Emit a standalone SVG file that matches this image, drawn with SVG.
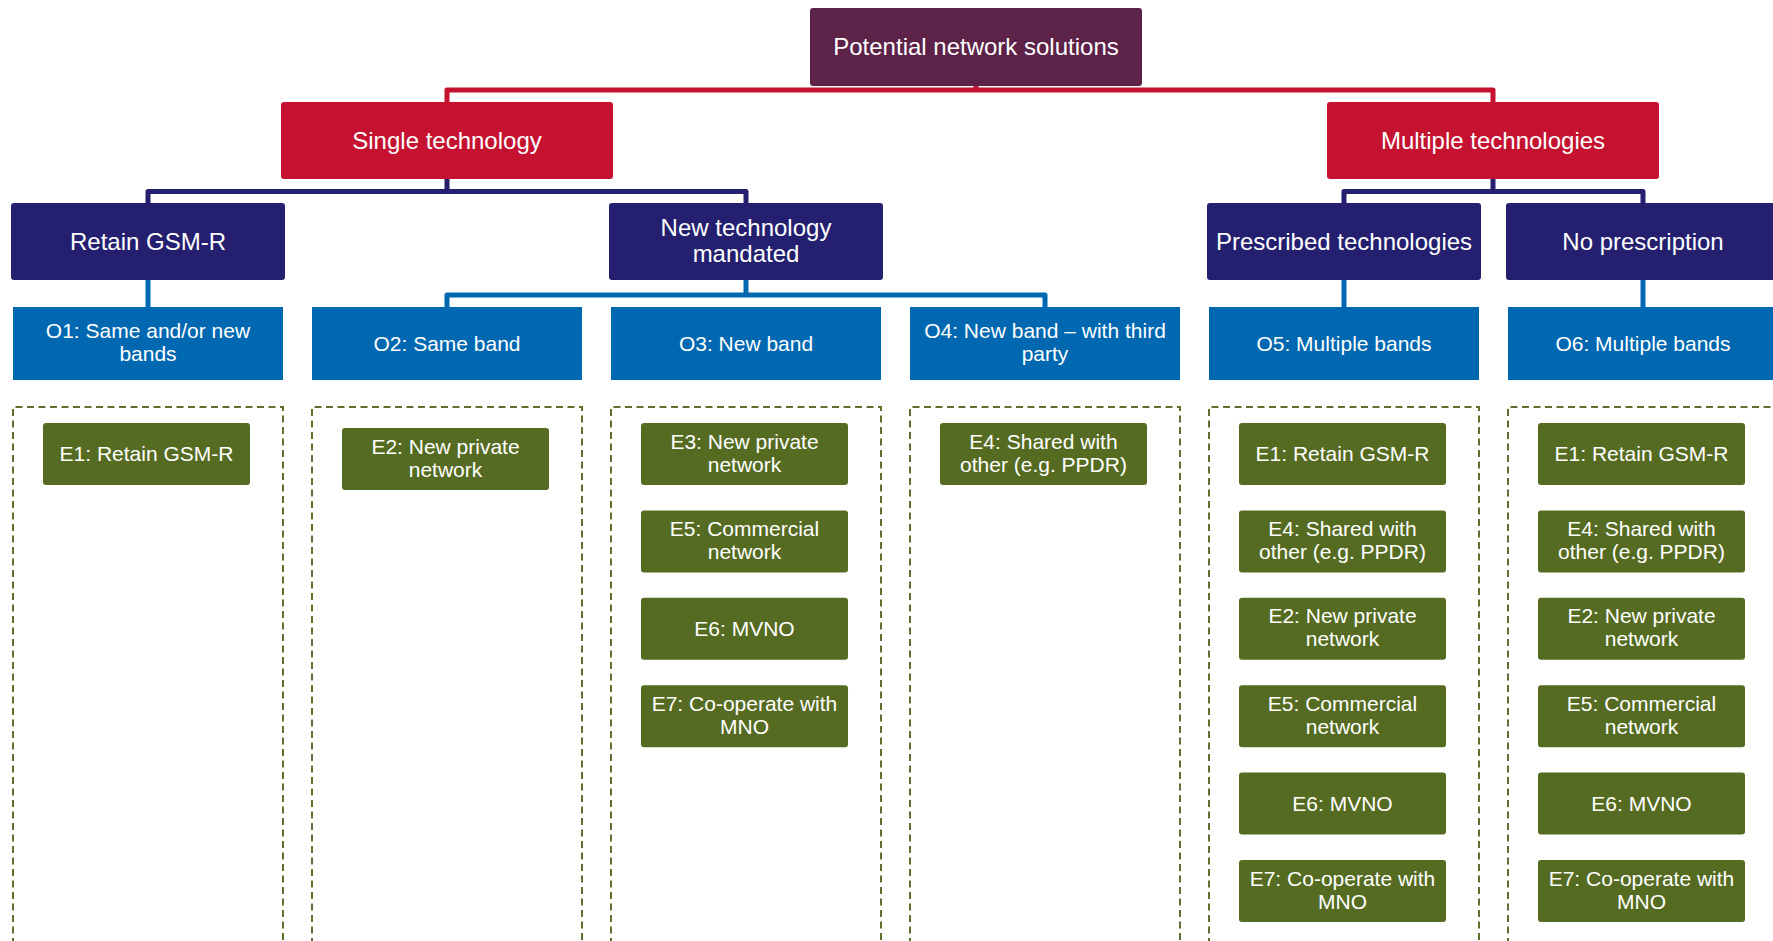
<svg xmlns="http://www.w3.org/2000/svg" width="1773" height="941" viewBox="0 0 1773 941">
<style>
  text { font-family: "Liberation Sans", Arial, sans-serif; fill: #ffffff; text-anchor: middle; }
  .t24 { font-size: 24px; }
  .t21 { font-size: 21px; }
  .top { fill: #5C2248; }
  .red { fill: #C41230; }
  .navy { fill: #241F6F; }
  .blue { fill: #0068B1; }
  .green { fill: #566B22; }
  .dash { fill: none; stroke: #5E7030; stroke-width: 2; stroke-dasharray: 7 4.5; }
  .cr { fill: none; stroke: #C41230; stroke-width: 5; stroke-linejoin: round; }
  .cn { fill: none; stroke: #241F6F; stroke-width: 5; stroke-linejoin: round; }
  .cb { fill: none; stroke: #0068B1; stroke-width: 5; stroke-linejoin: round; }
</style>
<rect width="1773" height="941" fill="#ffffff"/>

<g id="connectors">
  <path class="cr" d="M976 84 V90 M447 104 V90 H1493 V104"/>
  <path class="cn" d="M447 177 V191.5 M148 205 V191.5 H746 V205 M1493 177 V191.5 M1344 205 V191.5 H1643 V205"/>
  <path class="cb" d="M148 278 V309 M746 278 V295 M447 309 V295 H1045 V309 M1344 278 V309 M1643 278 V309"/>
</g>

<g id="groups">
  <path class="dash" d="M13 945 V407 H283 V945"/>
  <path class="dash" d="M312 945 V407 H582 V945"/>
  <path class="dash" d="M611 945 V407 H881 V945"/>
  <path class="dash" d="M910 945 V407 H1180 V945"/>
  <path class="dash" d="M1209 945 V407 H1479 V945"/>
  <path class="dash" d="M1508 945 V407 H1778 V945"/>
</g>

<g id="root">
  <rect class="top" x="810" y="8" width="332" height="78" rx="3"/>
  <text class="t24" x="976" y="55">Potential network solutions</text>
</g>

<g id="single">
  <rect class="red" x="281" y="102" width="332" height="77" rx="3"/>
  <text class="t24" x="447" y="149">Single technology</text>
</g>
<g id="multiple">
  <rect class="red" x="1327" y="102" width="332" height="77" rx="3"/>
  <text class="t24" x="1493" y="149">Multiple technologies</text>
</g>

<g id="retain">
  <rect class="navy" x="11" y="203" width="274" height="77" rx="3"/>
  <text class="t24" x="148" y="250">Retain GSM-R</text>
</g>
<g id="newtech">
  <rect class="navy" x="609" y="203" width="274" height="77" rx="3"/>
  <text class="t24" x="746" y="236">New technology</text>
  <text class="t24" x="746" y="262">mandated</text>
</g>
<g id="prescribed">
  <rect class="navy" x="1207" y="203" width="274" height="77" rx="3"/>
  <text class="t24" x="1344" y="250">Prescribed technologies</text>
</g>
<g id="noprescription">
  <rect class="navy" x="1506" y="203" width="274" height="77" rx="3"/>
  <text class="t24" x="1643" y="250">No prescription</text>
</g>

<g id="o1">
  <rect class="blue" x="13" y="307" width="270" height="73"/>
  <text class="t21" x="148" y="338">O1: Same and/or new</text>
  <text class="t21" x="148" y="361">bands</text>
</g>
<g id="o2">
  <rect class="blue" x="312" y="307" width="270" height="73"/>
  <text class="t21" x="447" y="351">O2: Same band</text>
</g>
<g id="o3">
  <rect class="blue" x="611" y="307" width="270" height="73"/>
  <text class="t21" x="746" y="351">O3: New band</text>
</g>
<g id="o4">
  <rect class="blue" x="910" y="307" width="270" height="73"/>
  <text class="t21" x="1045" y="338">O4: New band – with third</text>
  <text class="t21" x="1045" y="361">party</text>
</g>
<g id="o5">
  <rect class="blue" x="1209" y="307" width="270" height="73"/>
  <text class="t21" x="1344" y="351">O5: Multiple bands</text>
</g>
<g id="o6">
  <rect class="blue" x="1508" y="307" width="270" height="73"/>
  <text class="t21" x="1643" y="351">O6: Multiple bands</text>
</g>

<!-- column 1 -->
<g id="c1-e1">
  <rect class="green" x="43" y="423" width="207" height="62" rx="3"/>
  <text class="t21" x="146.5" y="461">E1: Retain GSM-R</text>
</g>
<!-- column 2 -->
<g id="c2-e2">
  <rect class="green" x="342" y="428" width="207" height="62" rx="3"/>
  <text class="t21" x="445.5" y="453.5">E2: New private</text>
  <text class="t21" x="445.5" y="476.5">network</text>
</g>
<!-- column 3 -->
<g id="c3-e3">
  <rect class="green" x="641" y="423" width="207" height="62" rx="3"/>
  <text class="t21" x="744.5" y="448.5">E3: New private</text>
  <text class="t21" x="744.5" y="471.5">network</text>
</g>
<g id="c3-e5">
  <rect class="green" x="641" y="510.4" width="207" height="62" rx="3"/>
  <text class="t21" x="744.5" y="535.9">E5: Commercial</text>
  <text class="t21" x="744.5" y="558.9">network</text>
</g>
<g id="c3-e6">
  <rect class="green" x="641" y="597.8" width="207" height="62" rx="3"/>
  <text class="t21" x="744.5" y="635.8">E6: MVNO</text>
</g>
<g id="c3-e7">
  <rect class="green" x="641" y="685.2" width="207" height="62" rx="3"/>
  <text class="t21" x="744.5" y="710.7">E7: Co-operate with</text>
  <text class="t21" x="744.5" y="733.7">MNO</text>
</g>
<!-- column 4 -->
<g id="c4-e4">
  <rect class="green" x="940" y="423" width="207" height="62" rx="3"/>
  <text class="t21" x="1043.5" y="448.5">E4: Shared with</text>
  <text class="t21" x="1043.5" y="471.5">other (e.g. PPDR)</text>
</g>
<!-- column 5 -->
<g id="c5-e1">
  <rect class="green" x="1239" y="423" width="207" height="62" rx="3"/>
  <text class="t21" x="1342.5" y="461">E1: Retain GSM-R</text>
</g>
<g id="c5-e4">
  <rect class="green" x="1239" y="510.4" width="207" height="62" rx="3"/>
  <text class="t21" x="1342.5" y="535.9">E4: Shared with</text>
  <text class="t21" x="1342.5" y="558.9">other (e.g. PPDR)</text>
</g>
<g id="c5-e2">
  <rect class="green" x="1239" y="597.8" width="207" height="62" rx="3"/>
  <text class="t21" x="1342.5" y="623.3">E2: New private</text>
  <text class="t21" x="1342.5" y="646.3">network</text>
</g>
<g id="c5-e5">
  <rect class="green" x="1239" y="685.2" width="207" height="62" rx="3"/>
  <text class="t21" x="1342.5" y="710.7">E5: Commercial</text>
  <text class="t21" x="1342.5" y="733.7">network</text>
</g>
<g id="c5-e6">
  <rect class="green" x="1239" y="772.6" width="207" height="62" rx="3"/>
  <text class="t21" x="1342.5" y="810.6">E6: MVNO</text>
</g>
<g id="c5-e7">
  <rect class="green" x="1239" y="860" width="207" height="62" rx="3"/>
  <text class="t21" x="1342.5" y="885.5">E7: Co-operate with</text>
  <text class="t21" x="1342.5" y="908.5">MNO</text>
</g>
<!-- column 6 -->
<g id="c6-e1">
  <rect class="green" x="1538" y="423" width="207" height="62" rx="3"/>
  <text class="t21" x="1641.5" y="461">E1: Retain GSM-R</text>
</g>
<g id="c6-e4">
  <rect class="green" x="1538" y="510.4" width="207" height="62" rx="3"/>
  <text class="t21" x="1641.5" y="535.9">E4: Shared with</text>
  <text class="t21" x="1641.5" y="558.9">other (e.g. PPDR)</text>
</g>
<g id="c6-e2">
  <rect class="green" x="1538" y="597.8" width="207" height="62" rx="3"/>
  <text class="t21" x="1641.5" y="623.3">E2: New private</text>
  <text class="t21" x="1641.5" y="646.3">network</text>
</g>
<g id="c6-e5">
  <rect class="green" x="1538" y="685.2" width="207" height="62" rx="3"/>
  <text class="t21" x="1641.5" y="710.7">E5: Commercial</text>
  <text class="t21" x="1641.5" y="733.7">network</text>
</g>
<g id="c6-e6">
  <rect class="green" x="1538" y="772.6" width="207" height="62" rx="3"/>
  <text class="t21" x="1641.5" y="810.6">E6: MVNO</text>
</g>
<g id="c6-e7">
  <rect class="green" x="1538" y="860" width="207" height="62" rx="3"/>
  <text class="t21" x="1641.5" y="885.5">E7: Co-operate with</text>
  <text class="t21" x="1641.5" y="908.5">MNO</text>
</g>
</svg>
